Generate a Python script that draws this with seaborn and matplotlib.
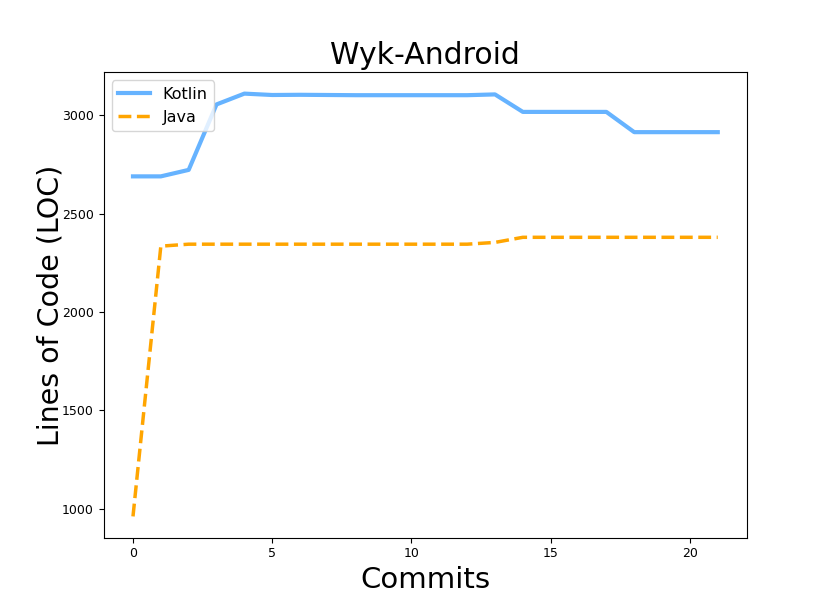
import matplotlib
matplotlib.use("Agg")
import matplotlib.pyplot as plt
import pandas as pd
import seaborn as sns

commits = list(range(22))
kotlin_loc = [2690, 2690, 2723, 3056, 3111, 3104, 3105, 3104, 3103, 3103, 3103,
              3103, 3103, 3107, 3018, 3018, 3018, 3018, 2915, 2915, 2915, 2915]
java_loc = [960, 2335, 2345, 2345, 2345, 2345, 2345, 2345, 2345, 2345, 2345,
            2345, 2345, 2354, 2380, 2380, 2380, 2380, 2380, 2380, 2380, 2380]

df = pd.DataFrame({"Commits": commits, "Kotlin": kotlin_loc, "Java": java_loc})

fig = plt.figure(figsize=(8.3, 6.04), dpi=100)
ax = fig.add_subplot(111)
sns.lineplot(x="Commits", y="Kotlin", data=df, color="#66b3ff", linewidth=3,
             label="Kotlin", ax=ax)
sns.lineplot(x="Commits", y="Java", data=df, color="orange", linewidth=2.5,
             linestyle="--", label="Java", ax=ax)

ax.set_title("Wyk-Android", fontsize=21.5)
ax.set_xlabel("Commits", fontsize=21)
ax.set_ylabel("Lines of Code (LOC)", fontsize=20.5, labelpad=-2)
ax.set_xticks([0, 5, 10, 15, 20])
ax.set_yticks([1000, 1500, 2000, 2500, 3000])
ax.tick_params(labelsize=9)
ax.legend(loc="upper left", fontsize=11.5)

fig.savefig("out.png", dpi=100)
